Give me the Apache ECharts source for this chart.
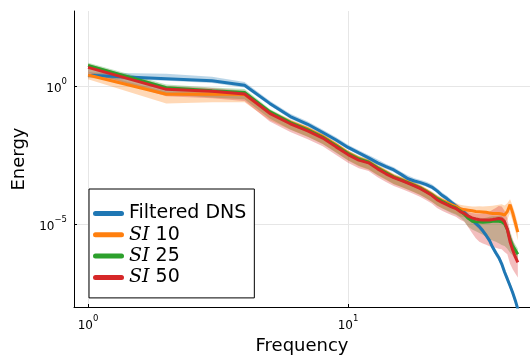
<!DOCTYPE html>
<html><head><meta charset="utf-8">
<script src="https://cdn.jsdelivr.net/npm/echarts@6/dist/echarts.min.js"></script>
<style>html,body{margin:0;padding:0;background:#fff}#c{width:530px;height:361px}</style>
</head><body><div id="c"></div>
<script>
// Frequencies (wavenumbers)
const freq = [1,2,3,4,5,6,7,8,9,10,11,12,13,14,15,16,17,18,19,20,21,22,23,24,25,26,27,28,29,30,31,32,33,34,35,36,37,38,39,40,41,42,43,44,45];
// Energies as log10 exponents
const dnsLog = [0.40,0.28,0.20,0.04,-0.62,-1.10,-1.38,-1.68,-1.95,-2.22,
  -2.42,-2.60,-2.78,-2.92,-3.04,-3.20,-3.36,-3.44,-3.50,-3.57,
  -3.66,-3.80,-3.96,-4.08,-4.22,-4.35,-4.47,-4.58,-4.72,-4.86,
  -4.98,-5.10,-5.25,-5.42,-5.60,-5.85,-6.05,-6.22,-6.45,-6.75,
  -7.00,-7.25,-7.50,-7.78,-8.10];
const si10Log = [0.41,-0.29,-0.28,-0.30,-0.95,-1.30,-1.55,-1.82,-2.12,-2.42,
  -2.62,-2.75,-2.95,-3.12,-3.28,-3.38,-3.48,-3.58,-3.68,-3.80,
  -3.92,-4.05,-4.15,-4.22,-4.30,-4.36,-4.45,-4.48,-4.50,-4.52,
  -4.55,-4.56,-4.57,-4.58,-4.60,-4.62,-4.62,-4.62,-4.64,-4.68,
  -4.55,-4.30,-4.60,-4.95,-5.30];
const si25Log = [0.76,-0.05,-0.16,-0.22,-0.92,-1.32,-1.58,-1.85,-2.16,-2.44,
  -2.64,-2.76,-2.97,-3.14,-3.30,-3.40,-3.50,-3.60,-3.70,-3.82,
  -3.94,-4.08,-4.18,-4.27,-4.35,-4.42,-4.52,-4.65,-4.80,-4.90,
  -4.92,-4.93,-4.94,-4.93,-4.92,-4.90,-4.90,-4.90,-4.92,-5.00,
  -5.20,-5.55,-5.80,-5.95,-6.10];
const si50Log = [0.69,-0.11,-0.18,-0.28,-0.98,-1.36,-1.62,-1.88,-2.20,-2.48,
  -2.68,-2.78,-3.00,-3.18,-3.32,-3.42,-3.52,-3.62,-3.72,-3.84,
  -3.96,-4.12,-4.22,-4.30,-4.38,-4.44,-4.55,-4.62,-4.72,-4.78,
  -4.82,-4.85,-4.86,-4.86,-4.86,-4.84,-4.82,-4.80,-4.82,-4.92,
  -5.20,-5.65,-5.95,-6.20,-6.40];
// Ribbon spreads (decades above / below each curve)
const dnsUp = [0.10,0.18,0.15,0.12,0.10,0.10,0.10,0.10,0.10,0.10,
  0.10,0.10,0.12,0.10,0.10,0.10,0.12,0.10,0.10,0.10,
  0.10,0.10,0.10,0.10,0.10,0.10,0.10,0.10,0.10,0.10,
  0.10,0.10,0.10,0.10,0.10,0.10,0.12,0.12,0.12,0.12,
  0.12,0.12,0.12,0.12,0.12];
const dnsDn = [0.10,0.08,0.08,0.08,0.08,0.08,0.08,0.08,0.08,0.08,
  0.08,0.08,0.08,0.08,0.08,0.08,0.08,0.08,0.08,0.08,
  0.08,0.08,0.08,0.08,0.08,0.08,0.08,0.08,0.08,0.08,
  0.10,0.10,0.10,0.10,0.10,0.10,0.12,0.12,0.12,0.12,
  0.12,0.12,0.12,0.12,0.12];
const si10Up = [0.12,0.10,0.10,0.10,0.10,0.10,0.10,0.10,0.10,0.10,
  0.10,0.10,0.10,0.10,0.10,0.10,0.10,0.10,0.10,0.10,
  0.10,0.10,0.10,0.12,0.12,0.12,0.15,0.15,0.15,0.15,
  0.18,0.20,0.20,0.22,0.25,0.28,0.30,0.32,0.35,0.35,
  0.30,0.20,0.25,0.30,0.30];
const si10Dn = [0.15,0.33,0.30,0.28,0.28,0.28,0.28,0.28,0.28,0.28,
  0.28,0.28,0.28,0.28,0.28,0.28,0.28,0.28,0.28,0.28,
  0.28,0.28,0.28,0.28,0.28,0.28,0.28,0.28,0.28,0.30,
  0.30,0.30,0.30,0.30,0.30,0.30,0.30,0.30,0.30,0.30,
  0.30,0.30,0.30,0.30,0.30];
const si25Up = [0.10,0.12,0.12,0.12,0.10,0.10,0.10,0.10,0.10,0.10,
  0.10,0.10,0.10,0.10,0.10,0.10,0.10,0.10,0.10,0.10,
  0.10,0.10,0.10,0.10,0.10,0.10,0.12,0.12,0.12,0.12,
  0.15,0.15,0.15,0.15,0.18,0.18,0.18,0.20,0.20,0.20,
  0.20,0.20,0.20,0.20,0.20];
const si25Dn = [0.25,0.25,0.25,0.25,0.25,0.25,0.25,0.25,0.25,0.25,
  0.25,0.25,0.25,0.25,0.25,0.25,0.25,0.25,0.25,0.25,
  0.25,0.25,0.25,0.25,0.25,0.25,0.25,0.25,0.30,0.30,
  0.35,0.40,0.45,0.55,0.65,0.70,0.75,0.80,0.85,0.80,
  0.70,0.50,0.35,0.30,0.25];
const si50Up = [0.12,0.12,0.12,0.12,0.10,0.10,0.10,0.10,0.10,0.10,
  0.10,0.10,0.10,0.10,0.10,0.10,0.10,0.10,0.10,0.10,
  0.10,0.10,0.10,0.10,0.10,0.12,0.12,0.15,0.15,0.18,
  0.20,0.22,0.25,0.28,0.30,0.35,0.40,0.45,0.45,0.40,
  0.40,0.40,0.40,0.35,0.30];
const si50Dn = [0.20,0.25,0.25,0.25,0.30,0.30,0.30,0.30,0.30,0.30,
  0.30,0.30,0.30,0.30,0.30,0.30,0.30,0.30,0.30,0.30,
  0.30,0.30,0.30,0.30,0.30,0.30,0.30,0.30,0.40,0.55,
  0.70,0.80,0.85,0.90,0.95,1.00,1.05,1.10,1.10,1.10,
  0.90,0.80,0.70,0.60,0.55];
const seriesNames = ['Filtered DNS', 'SI 10', 'SI 25', 'SI 50'];
const colors = ['#1f77b4', '#ff7f0e', '#2ca02c', '#d62728'];
const xTicks = [1, 10];
const yTicks = [1e-5, 1];

const curves = [dnsLog, si10Log, si25Log, si50Log];
const ups = [dnsUp, si10Up, si25Up, si50Up];
const dns = [dnsDn, si10Dn, si25Dn, si50Dn];

function hexA(hex, a) {
  const r = parseInt(hex.slice(1,3),16), g = parseInt(hex.slice(3,5),16), b = parseInt(hex.slice(5,7),16);
  return 'rgba(' + r + ',' + g + ',' + b + ',' + a + ')';
}
function powLabel(v) {
  const e = Math.round(Math.log10(v));
  return '{b|10}{s|' + (e < 0 ? '\u2212' + (-e) : e) + '}';
}
const labelRich = {
  b: {fontFamily: 'DejaVu Sans', fontSize: 12, color: '#000', lineHeight: 18, verticalAlign: 'bottom'},
  s: {fontFamily: 'DejaVu Sans', fontSize: 8.5, color: '#000', lineHeight: 18, verticalAlign: 'top'}
};

const series = [];
curves.forEach(function (mid, s) {
  const up = ups[s], dn = dns[s], col = colors[s];
  series.push({
    type: 'custom', name: seriesNames[s] + ' band', silent: true, clip: true,
    data: freq.map(function (k, i) { return [k, Math.pow(10, mid[i])]; }),
    encode: {x: 0, y: 1},
    renderItem: function (params, api) {
      if (params.dataIndex !== 0) return null;
      const pts = [];
      for (let i = 0; i < freq.length; i++) pts.push(api.coord([freq[i], Math.pow(10, mid[i] + up[i])]));
      for (let i = freq.length - 1; i >= 0; i--) pts.push(api.coord([freq[i], Math.pow(10, mid[i] - dn[i])]));
      return {type: 'polygon', shape: {points: pts}, style: {fill: hexA(col, 0.3)}};
    }
  });
  series.push({
    type: 'line', name: seriesNames[s], color: col, symbol: 'none', showSymbol: false, clip: true,
    lineStyle: {width: 3, color: col},
    data: freq.map(function (k, i) { return [k, Math.pow(10, mid[i])]; })
  });
});

const chart = echarts.init(document.getElementById('c'), null, {renderer: 'canvas'});
chart.setOption({
  animation: false,
  backgroundColor: '#fff',
  grid: {left: 74, right: 0, top: 11, bottom: 54},
  xAxis: {
    type: 'log', logBase: 10,
    min: Math.pow(10, -0.054), max: Math.pow(10, 1.70),
    name: 'Frequency', nameLocation: 'middle', nameGap: 30,
    nameTextStyle: {fontFamily: 'DejaVu Sans', fontSize: 18, color: '#000'},
    axisLine: {show: true, lineStyle: {color: '#000', width: 1}},
    axisTick: {show: true, inside: true, length: 3, customValues: xTicks, lineStyle: {color: '#000'}},
    axisLabel: {customValues: xTicks, margin: 7, formatter: powLabel, rich: labelRich},
    splitLine: {show: true, lineStyle: {color: '#e6e6e6', width: 1}},
    minorTick: {show: false}, minorSplitLine: {show: false}
  },
  yAxis: {
    type: 'log', logBase: 10,
    min: Math.pow(10, -8.02), max: Math.pow(10, 2.738),
    name: 'Energy', nameLocation: 'middle', nameGap: 45,
    nameTextStyle: {fontFamily: 'DejaVu Sans', fontSize: 18, color: '#000'},
    axisLine: {show: true, lineStyle: {color: '#000', width: 1}},
    axisTick: {show: true, inside: true, length: 3, customValues: yTicks, lineStyle: {color: '#000'}},
    axisLabel: {customValues: yTicks, margin: 7, formatter: powLabel, rich: labelRich},
    splitLine: {show: true, lineStyle: {color: '#e6e6e6', width: 1}},
    minorTick: {show: false}, minorSplitLine: {show: false}
  },
  legend: {
    data: seriesNames, orient: 'vertical', left: 89, top: 189,
    backgroundColor: '#fff', borderColor: '#000', borderWidth: 1, borderRadius: 0,
    padding: [15, 8, 11, 4], itemGap: 2.3, itemWidth: 31, itemHeight: 5,
    icon: 'path://M2.5,0H28.5A2.5,2.5,0,0,1,28.5,5H2.5A2.5,2.5,0,0,1,2.5,0Z',
    selectedMode: false,
    formatter: function (n) { return n.indexOf('SI') === 0 ? '{i|SI}{t| ' + n.slice(3) + '}' : '{t|' + n + '}'; },
    textStyle: {
      fontFamily: 'DejaVu Sans', fontSize: 19, color: '#000',
      rich: {
        i: {fontFamily: 'DejaVu Serif', fontStyle: 'italic', fontSize: 19, color: '#000', lineHeight: 20},
        t: {fontFamily: 'DejaVu Sans', fontSize: 19, color: '#000', lineHeight: 20}
      }
    }
  },
  series: series
});
</script>
</body></html>
